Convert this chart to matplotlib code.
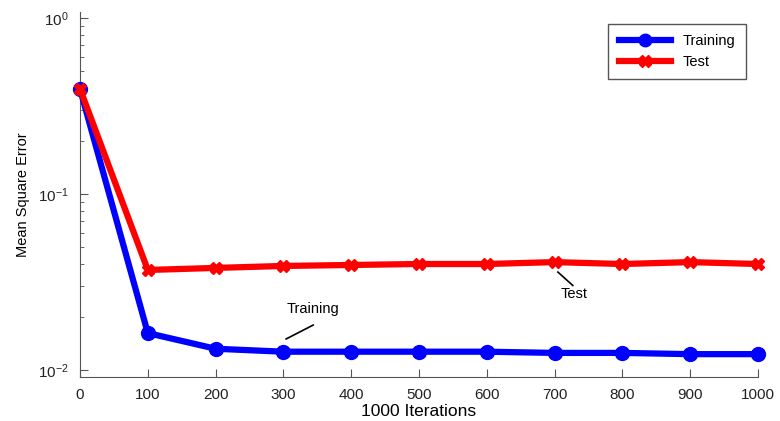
import matplotlib
matplotlib.use('Agg')
import matplotlib.pyplot as plt

iterations = [0, 100, 200, 300, 400, 500, 600, 700, 800, 900, 1000]
training = [0.395, 0.0162, 0.0132, 0.0127, 0.0127, 0.0127, 0.0127, 0.0125, 0.0125, 0.0123, 0.0123]
test = [0.395, 0.037, 0.038, 0.039, 0.0395, 0.040, 0.040, 0.041, 0.040, 0.041, 0.040]

plt.rcParams['font.family'] = ['Liberation Sans', 'DejaVu Sans']

fig = plt.figure(figsize=(7.8, 4.21), dpi=100)
ax = fig.add_axes([0.1026, 0.1045, 0.869, 0.867])

ax.plot(iterations, training, color='#0000ff', lw=4.5, marker='o', ms=10, label='Training',
        clip_on=False, zorder=3)
ax.plot(iterations, test, color='#ff0000', lw=4.5, marker='X', ms=9, label='Test',
        clip_on=False, zorder=4)

ax.set_yscale('log')
ax.set_xlim(0, 1000)
ax.set_ylim(10 ** -2.04, 10 ** 0.034)
ax.set_xticks(iterations)
ax.set_xlabel('1000 Iterations', fontsize=12.5, labelpad=1)
ax.set_ylabel('Mean Square Error', fontsize=10.5, labelpad=6)

for s in ['top', 'right']:
    ax.spines[s].set_visible(False)
for s in ['left', 'bottom']:
    ax.spines[s].set_color('#555555')
ax.tick_params(which='both', direction='in', colors='#555555', labelcolor='#222222', labelsize=11)
ax.tick_params(which='major', length=6, pad=8)
ax.tick_params(which='minor', length=3)
ax.tick_params(axis='x', which='minor', bottom=False)

# leader lines and labels
ax.plot([304, 344], [0.0150, 0.0180], color='black', lw=1.2)
ax.text(305, 0.0203, 'Training', fontsize=10.5, ha='left', va='bottom')
ax.plot([705, 727], [0.0360, 0.0302], color='black', lw=1.2)
ax.text(729, 0.0296, 'Test', fontsize=10.5, ha='center', va='top')

leg = ax.legend(loc='upper right', bbox_to_anchor=(0.982, 0.967), borderaxespad=0,
                fontsize=10.5, fancybox=False, edgecolor='#555555', framealpha=1,
                handlelength=3.6, borderpad=0.7, labelspacing=0.45, markerscale=0.9)
leg.get_frame().set_linewidth(1)

fig.savefig('out.png', dpi=100)
